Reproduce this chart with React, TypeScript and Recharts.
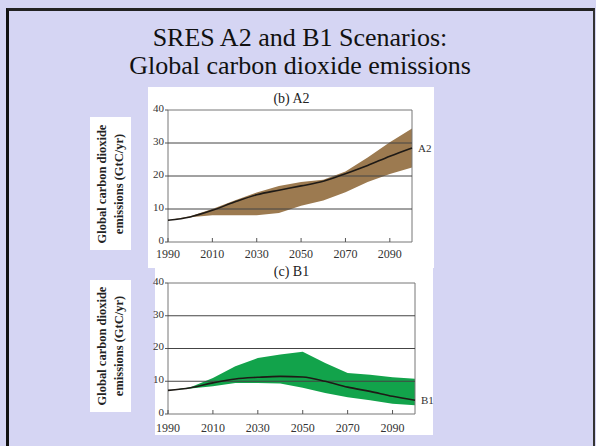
import { ComposedChart, Area, Line, XAxis, YAxis, ReferenceLine, ReferenceArea } from 'recharts'

const years = [1990, 2000, 2010, 2020, 2030, 2040, 2050, 2060, 2070, 2080, 2090, 2100]

const a2Median = [6.6, 7.6, 9.6, 12.1, 14.3, 15.7, 17.0, 18.4, 20.7, 23.2, 26.0, 28.5]
const a2High = [6.6, 7.8, 10.0, 12.6, 15.0, 17.0, 18.2, 18.9, 21.4, 25.6, 30.2, 34.4]
const a2Low = [6.6, 7.5, 8.1, 8.1, 8.1, 8.8, 11.0, 12.6, 15.1, 18.2, 20.6, 22.6]

const b1Median = [7.2, 8.0, 9.5, 10.7, 11.2, 11.5, 11.3, 10.0, 8.2, 6.9, 5.4, 4.2]
const b1High = [7.2, 8.2, 11.0, 14.6, 17.1, 18.2, 19.0, 15.6, 12.5, 12.0, 11.2, 10.8]
const b1Low = [7.2, 7.8, 8.5, 9.5, 9.5, 9.3, 8.0, 6.4, 5.1, 4.2, 3.1, 2.7]

const xTicks = [1990, 2000, 2010, 2020, 2030, 2040, 2050, 2060, 2070, 2080, 2090]
const yTicks = [0, 10, 20, 30, 40]
const gridValues = [10, 20, 30]

const serif = '"Liberation Serif", "Times New Roman", serif'

const a2Data = years.map((year, i) => ({ year, median: a2Median[i], band: [a2Low[i], a2High[i]] }))
const b1Data = years.map((year, i) => ({ year, median: b1Median[i], band: [b1Low[i], b1High[i]] }))

const makeXTick = (labelDy: number) => (props: any) => {
  const { x, y, payload } = props
  const show = (payload.value - 1990) % 20 === 0
  return (
    <g>
      <line x1={x} x2={x} y1={y} y2={y - 4} stroke="#555" />
      {show && (
        <text x={x} y={y + labelDy} textAnchor="middle" fontSize={12} fontFamily={serif} fill="#333">
          {payload.value}
        </text>
      )}
    </g>
  )
}

const endLabel = (name: string) => (props: any) => {
  const { x, y, index } = props
  if (index !== years.length - 1) return <g />
  return (
    <text x={x + 6} y={y + 4} fontSize={11} fontFamily={serif} fill="#333">
      {name}
    </text>
  )
}

interface PanelProps {
  data: any[]
  color: string
  name: string
  title: string
  top: number
  height: number
  marginTop: number
  marginRight: number
  xHeight: number
  labelDy: number
}

function Panel({ data, color, name, title, top, height, marginTop, marginRight, xHeight, labelDy }: PanelProps) {
  return (
    <div style={{ position: 'absolute', left: 140, top, width: 300, height }}>
      <ComposedChart
        width={300}
        height={height}
        data={data}
        margin={{ top: marginTop, right: marginRight, bottom: 0, left: 0 }}
      >
        <XAxis
          dataKey="year"
          type="number"
          domain={[1990, 2100]}
          ticks={xTicks}
          axisLine={false}
          tickLine={false}
          tickSize={0}
          tickMargin={0}
          height={xHeight}
          tick={makeXTick(labelDy)}
        />
        <YAxis
          domain={[0, 40]}
          ticks={yTicks}
          width={28}
          axisLine={false}
          tickSize={3}
          tickMargin={1}
          tickLine={{ stroke: '#555' }}
          tick={{ fontSize: 11, fontFamily: serif, fill: '#333', dy: -2 }}
        />
        <Area
          dataKey="band"
          type="linear"
          stroke="none"
          fill={color}
          fillOpacity={1}
          isAnimationActive={false}
        />
        {gridValues.map((v) => (
          <ReferenceLine key={v} y={v} stroke="#444" strokeWidth={1} />
        ))}
        <ReferenceArea x1={1990} x2={2100} y1={0} y2={40} fill="none" stroke="#777" strokeWidth={1} />
        <Line
          dataKey="median"
          type="monotone"
          stroke="#1e1a16"
          strokeWidth={1.6}
          dot={false}
          isAnimationActive={false}
          label={endLabel(name)}
        />
      </ComposedChart>
      <div
        style={{
          position: 'absolute',
          left: 0,
          right: 0,
          top: marginTop - 19,
          textAlign: 'center',
          fontFamily: serif,
          fontSize: 14,
          color: '#222',
          paddingLeft: 3,
        }}
      >
        {title}
      </div>
    </div>
  )
}

function AxisTitle({ top, height }: { top: number; height: number }) {
  return (
    <div style={{ position: 'absolute', left: 90, top, width: 41, height, background: '#fff' }}>
      <div
        style={{
          position: 'absolute',
          left: 21,
          top: height / 2,
          transform: 'translate(-50%, -50%) rotate(-90deg)',
          whiteSpace: 'nowrap',
          textAlign: 'center',
          fontFamily: serif,
          fontWeight: 'bold',
          fontSize: 12.5,
          lineHeight: '17px',
          color: '#222',
        }}
      >
        Global carbon dioxide
        <br />
        emissions (GtC/yr)
      </div>
    </div>
  )
}

export default function App() {
  return (
    <div
      style={{
        position: 'fixed',
        left: 0,
        top: 0,
        width: 596,
        height: 446,
        background: '#d5d5f3',
        overflow: 'hidden',
      }}
    >
      <div
        style={{
          position: 'absolute',
          left: 6,
          top: 8,
          right: 1,
          bottom: -20,
          borderLeft: '3px solid #111',
          borderTop: '3px solid #222',
          borderRight: '2px solid #333',
        }}
      />
      <div
        style={{
          position: 'absolute',
          left: 0,
          width: 600,
          top: 24,
          textAlign: 'center',
          fontFamily: serif,
          fontSize: 26,
          lineHeight: '28px',
          color: '#111',
        }}
      >
        SRES A2 and B1 Scenarios:
        <br />
        Global carbon dioxide emissions
      </div>
      <div style={{ position: 'absolute', left: 148, top: 87, width: 286, height: 181, background: '#fff' }} />
      <div style={{ position: 'absolute', left: 155, top: 268, width: 278, height: 167, background: '#fff' }} />
      <AxisTitle top={117} height={133} />
      <AxisTitle top={280} height={132} />
      <Panel
        data={a2Data}
        color="#9c7a50"
        name="A2"
        title="(b) A2"
        top={85}
        height={183}
        marginTop={25}
        marginRight={28}
        xHeight={26}
        labelDy={16}
      />
      <Panel
        data={b1Data}
        color="#12a34b"
        name="B1"
        title="(c) B1"
        top={262}
        height={174}
        marginTop={21}
        marginRight={25}
        xHeight={22}
        labelDy={18}
      />
    </div>
  )
}
